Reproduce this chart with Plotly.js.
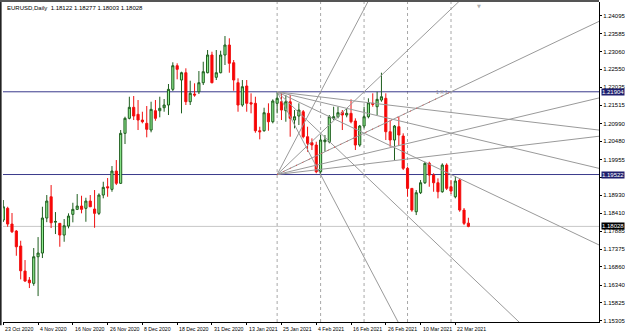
<!DOCTYPE html>
<html><head><meta charset="utf-8">
<script src="https://cdn.plot.ly/plotly-3.0.1.min.js"></script>
<style>html,body{margin:0;padding:0;background:#fff;}#chart{width:625px;height:335px;}</style>
</head><body><div id="chart"></div>
<script>
const symbolTitle = "EURUSD,Daily  1.18122 1.18277 1.18003 1.18028";
const dates = ["23 Oct 2020","26 Oct 2020","27 Oct 2020","28 Oct 2020","29 Oct 2020","30 Oct 2020",
"2 Nov 2020","3 Nov 2020","4 Nov 2020","5 Nov 2020","6 Nov 2020","9 Nov 2020","10 Nov 2020","11 Nov 2020","12 Nov 2020","13 Nov 2020","16 Nov 2020","17 Nov 2020","18 Nov 2020","19 Nov 2020","20 Nov 2020","23 Nov 2020","24 Nov 2020","25 Nov 2020","26 Nov 2020","27 Nov 2020","30 Nov 2020",
"1 Dec 2020","2 Dec 2020","3 Dec 2020","4 Dec 2020","7 Dec 2020","8 Dec 2020","9 Dec 2020","10 Dec 2020","11 Dec 2020","14 Dec 2020","15 Dec 2020","16 Dec 2020","17 Dec 2020","18 Dec 2020","21 Dec 2020","22 Dec 2020","23 Dec 2020","24 Dec 2020","28 Dec 2020","29 Dec 2020","30 Dec 2020","31 Dec 2020",
"4 Jan 2021","5 Jan 2021","6 Jan 2021","7 Jan 2021","8 Jan 2021","11 Jan 2021","12 Jan 2021","13 Jan 2021","14 Jan 2021","15 Jan 2021","18 Jan 2021","19 Jan 2021","20 Jan 2021","21 Jan 2021","22 Jan 2021","25 Jan 2021","26 Jan 2021","27 Jan 2021","28 Jan 2021","29 Jan 2021",
"1 Feb 2021","2 Feb 2021","3 Feb 2021","4 Feb 2021","5 Feb 2021","8 Feb 2021","9 Feb 2021","10 Feb 2021","11 Feb 2021","12 Feb 2021","15 Feb 2021","16 Feb 2021","17 Feb 2021","18 Feb 2021","19 Feb 2021","22 Feb 2021","23 Feb 2021","24 Feb 2021","25 Feb 2021","26 Feb 2021",
"1 Mar 2021","2 Mar 2021","3 Mar 2021","4 Mar 2021","5 Mar 2021","8 Mar 2021","9 Mar 2021","10 Mar 2021","11 Mar 2021","12 Mar 2021","15 Mar 2021","16 Mar 2021","17 Mar 2021","18 Mar 2021","19 Mar 2021","22 Mar 2021","23 Mar 2021","24 Mar 2021","25 Mar 2021"];

const open = [
1.18211,1.18548,1.18096,1.17894,1.17462,1.16742,1.16483,1.16388,1.17154,1.17261,
1.18269,1.18882,1.18150,1.18116,1.17779,1.18038,1.18375,1.18519,1.18614,1.18548,
1.18758,1.18528,1.18404,1.18931,1.19170,1.19095,1.19622,1.19268,1.20708,1.21140,
1.21457,1.21255,1.21091,1.20996,1.20803,1.21359,1.21359,1.21445,1.21523,1.21975,
1.22655,1.22243,1.22453,1.21618,1.21840,1.21906,1.22165,1.22453,1.22963,1.22321,
1.22453,1.22963,1.23251,1.22741,1.22165,1.21523,1.22070,1.21589,1.21572,1.20783,
1.20783,1.21284,1.21042,1.21572,1.21618,1.21359,1.21618,1.21091,1.21206,1.21330,
1.20610,1.20437,1.20371,1.19602,1.20466,1.20466,1.21140,1.21186,1.21313,1.21235,
1.21284,1.21062,1.20371,1.20918,1.21186,1.21572,1.21474,1.21667,1.21716,1.20754,
1.20515,1.20898,1.20630,1.19700,1.19123,1.18450,1.18998,1.19285,1.19844,1.19507,
1.19285,1.19026,1.19795,1.19170,1.18882,1.19363,1.18499,1.18122];
const high = [
1.18787,1.18594,1.18413,1.17923,1.17615,1.17059,1.16569,1.17405,1.17721,1.18594,
1.18931,1.19219,1.18441,1.18125,1.18240,1.18404,1.18709,1.18960,1.18911,1.18853,
1.18931,1.19075,1.18980,1.19314,1.19421,1.19766,1.19939,1.20803,1.21186,1.21762,
1.21782,1.21667,1.21330,1.21494,1.21618,1.21667,1.21762,1.21696,1.22128,1.22753,
1.22724,1.22482,1.22580,1.22223,1.22148,1.22502,1.22770,1.23107,1.23058,1.23107,
1.23087,1.23510,1.23444,1.22819,1.22292,1.22243,1.22243,1.21860,1.21762,1.20898,
1.21445,1.21572,1.21687,1.21889,1.21860,1.21811,1.21811,1.21379,1.21572,1.21379,
1.20898,1.20563,1.20466,1.20659,1.20659,1.21235,1.21474,1.21474,1.21379,1.21428,
1.21687,1.21140,1.20947,1.21474,1.21716,1.21860,1.21906,1.22453,1.21860,1.21091,
1.20947,1.21186,1.20708,1.19748,1.19123,1.19075,1.19363,1.19890,1.19890,1.19558,
1.19412,1.19844,1.19844,1.19363,1.19470,1.19421,1.18557,1.18277];
const low = [
1.18154,1.18018,1.17837,1.17183,1.16503,1.16434,1.16253,1.16319,1.16022,1.17117,
1.18150,1.17981,1.17808,1.17442,1.17586,1.17972,1.18145,1.18499,1.18404,1.18162,
1.18585,1.17989,1.18355,1.18836,1.18882,1.19026,1.19219,1.19248,1.20400,1.21111,
1.21091,1.20803,1.20996,1.20593,1.20737,1.21071,1.21169,1.21330,1.21235,1.21926,
1.22263,1.21284,1.21523,1.21523,1.21762,1.21840,1.22099,1.22436,1.22148,1.22243,
1.22436,1.22675,1.22453,1.21935,1.21330,1.21474,1.21330,1.21284,1.20725,1.20535,
1.20754,1.20783,1.20996,1.21284,1.21091,1.21042,1.20610,1.20852,1.20947,1.20563,
1.20178,1.20227,1.19558,1.19522,1.20178,1.20420,1.21091,1.21140,1.20803,1.21169,
1.20996,1.20227,1.20322,1.20852,1.21140,1.21474,1.21235,1.21618,1.20515,1.20322,
1.19939,1.20342,1.19651,1.18882,1.18450,1.18355,1.18960,1.19248,1.19170,1.19026,
1.18836,1.18998,1.19075,1.18960,1.18836,1.18450,1.18067,1.18003];
const close = [
1.18594,1.18096,1.17874,1.17442,1.16751,1.16454,1.16405,1.17154,1.17261,1.18269,
1.18758,1.18133,1.18170,1.17779,1.18047,1.18326,1.18519,1.18614,1.18519,1.18758,
1.18594,1.18404,1.18931,1.19153,1.19141,1.19622,1.19268,1.20708,1.21140,1.21457,
1.21206,1.21091,1.21042,1.20823,1.21399,1.21140,1.21428,1.21523,1.21975,1.22655,
1.22551,1.22453,1.21618,1.21860,1.21811,1.22165,1.22482,1.22963,1.22165,1.22453,
1.22963,1.23251,1.22724,1.22243,1.21523,1.22050,1.21572,1.21552,1.20783,1.20754,
1.21301,1.21042,1.21638,1.21716,1.21379,1.21618,1.21140,1.21186,1.21379,1.20610,
1.20420,1.20371,1.19602,1.20515,1.20515,1.21186,1.21186,1.21301,1.21235,1.21284,
1.21042,1.20371,1.20918,1.21186,1.21589,1.21543,1.21687,1.21762,1.20754,1.20515,
1.20918,1.20659,1.19700,1.19123,1.18499,1.18998,1.19285,1.19844,1.19507,1.19285,
1.19026,1.19795,1.19124,1.19046,1.19334,1.18499,1.18116,1.18028];

const priceTicks = [1.24095,1.23585,1.23060,1.22550,1.22035,1.21515,1.20990,1.20480,1.19955,1.19450,1.18930,1.18410,1.17885,1.17375,1.16860,1.16340,1.15825,1.15305];
const hiddenPriceTicks = [1.19450];
const dateTickEvery = 8;
const hLevelHigh = 1.21904, hLevelLow = 1.19522, lastPrice = 1.18028;
const separatorBars = [63, 73, 83, 93, 103];
const fanOriginBar = 63, fanAnchorBar = 103;
const fanRatios = [4, 2, 1, 0.5, 0.25];
const chartShiftBar = 109.4;

const idx = dates.map((d,i)=>i);
const xMin = -0.07, xMax = 137.05, yMin = 1.152754, yMax = 1.244895;
const narrow = 'Liberation Sans Narrow, Liberation Sans, Arial';

const traces = [];
const unit = (hLevelHigh - hLevelLow) / (fanAnchorBar - fanOriginBar);
const xEnd = 160;
fanRatios.forEach(r => {
  traces.push({type:'scatter', mode:'lines', x:[fanOriginBar, xEnd], y:[hLevelLow, hLevelLow + r*unit*(xEnd-fanOriginBar)],
    line:{color:'#9a9a9a', width:1}, hoverinfo:'skip', showlegend:false});
  traces.push({type:'scatter', mode:'lines', x:[fanOriginBar, xEnd], y:[hLevelHigh, hLevelHigh - r*unit*(xEnd-fanOriginBar)],
    line:{color:'#9a9a9a', width:1}, hoverinfo:'skip', showlegend:false});
});
traces.push({type:'scatter', mode:'lines', x:[fanOriginBar, fanAnchorBar], y:[hLevelLow, hLevelHigh],
  line:{color:'#e04040', width:1, dash:'1px,6px'}, hoverinfo:'skip', showlegend:false});

traces.push({type:'candlestick', x:idx, open:open, high:high, low:low, close:close,
  increasing:{line:{color:'#1e5e1e', width:1}, fillcolor:'#90ee90'},
  decreasing:{line:{color:'#f01010', width:1}, fillcolor:'#ff0000'},
  whiskerwidth:0, showlegend:false, hoverinfo:'skip'});

const shapes = [];
separatorBars.forEach(b => shapes.push({type:'line', xref:'x', yref:'paper', x0:b, x1:b, y0:0, y1:1,
  line:{color:'#a8a8a8', width:1, dash:'dot'}, layer:'below'}));
[[hLevelHigh,'#3a3a8c'],[hLevelLow,'#3a3a8c'],[lastPrice,'#c8c8c8']].forEach(([v,c]) =>
  shapes.push({type:'line', xref:'paper', yref:'y', x0:0, x1:1, y0:v, y1:v, line:{color:c, width:1}, layer:'below'}));
shapes.push({type:'line', xref:'paper', yref:'paper', x0:-0.004, x1:-0.004, y0:-0.01, y1:1.01, line:{color:'#222', width:2}});
shapes.push({type:'line', xref:'paper', yref:'paper', x0:-0.005, x1:1, y0:1.003, y1:1.003, line:{color:'#555', width:2}});

const annotations = [];
annotations.push({xref:'paper', yref:'paper', x:0.003, y:0.997, xanchor:'left', yanchor:'top', text:symbolTitle, showarrow:false,
  font:{family:'Liberation Sans, Arial', size:6, color:'#000'}});
for (let i = 0; i < dates.length; i += dateTickEvery) {
  annotations.push({xref:'x', yref:'paper', x:i, y:0, yshift:-2, xanchor:'left', yanchor:'top', text:dates[i], showarrow:false,
    font:{family:narrow, size:5.2, color:'#000'}});
}
[[hLevelHigh,'#1f1f6e','#fff'],[hLevelLow,'#1f1f6e','#fff'],[lastPrice,'#000','#fff']].forEach(([v,bg,fc]) =>
  annotations.push({xref:'paper', yref:'y', x:1, y:v, xanchor:'left', yanchor:'middle', xshift:2, text:v.toFixed(5), showarrow:false,
    bgcolor:bg, borderpad:0, font:{family:narrow, size:6, color:fc}}));
annotations.push({xref:'x', yref:'y', x:fanAnchorBar, y:hLevelHigh, xanchor:'right', yanchor:'middle', xshift:-1, text:'1 X 1', showarrow:false,
  font:{family:'Liberation Sans, Arial', size:5, color:'#8a8a8a'}});
annotations.push({xref:'x', yref:'paper', x:chartShiftBar, y:1, yanchor:'top', yshift:1, text:'▼', showarrow:false,
  font:{family:'DejaVu Sans', size:5, color:'#b0b0b0'}});

const layout = {
  width:625, height:335, margin:{l:3, r:26, t:2, b:13},
  paper_bgcolor:'#fff', plot_bgcolor:'#fff', showlegend:false,
  xaxis:{range:[xMin,xMax], showgrid:false, zeroline:false, rangeslider:{visible:false},
    tickvals: idx.filter(i => i % dateTickEvery === 0), ticktext: idx.filter(i => i % dateTickEvery === 0).map(()=>''),
    ticks:'outside', ticklen:2, tickcolor:'#000', showline:true, linecolor:'#000', linewidth:1, fixedrange:true},
  yaxis:{range:[yMin,yMax], side:'right', showgrid:false, zeroline:false, tickvals:priceTicks,
    ticktext:priceTicks.map(v => hiddenPriceTicks.includes(v) ? '' : v.toFixed(5)),
    ticks:'outside', ticklen:2, tickcolor:'#000', showline:true, linecolor:'#000', linewidth:1,
    tickfont:{family:narrow, size:6, color:'#000'}, fixedrange:true},
  shapes:shapes, annotations:annotations
};
Plotly.newPlot('chart', traces, layout, {displayModeBar:false, staticPlot:true});
</script></body></html>
